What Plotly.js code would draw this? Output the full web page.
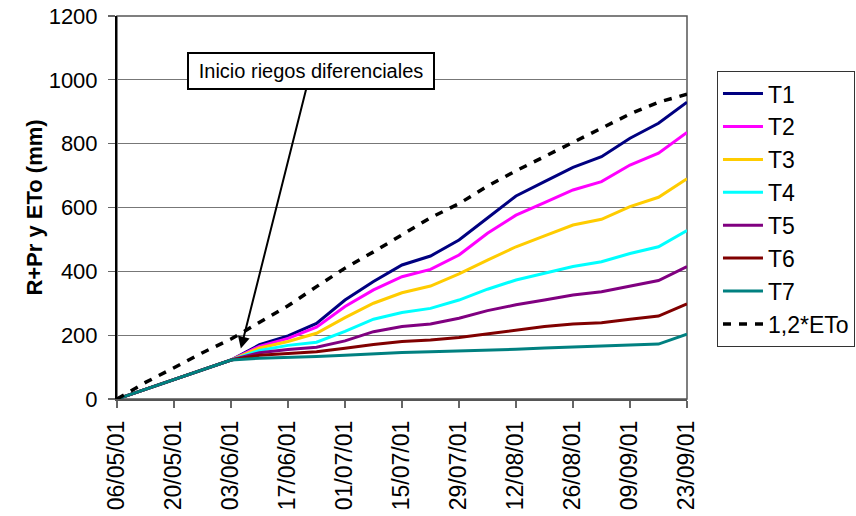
<!DOCTYPE html>
<html>
<head>
<meta charset="utf-8">
<script src="https://cdn.plot.ly/plotly-3.0.1.min.js"></script>
<style>
html,body{margin:0;padding:0;background:#fff;}
#chart{width:856px;height:516px;}
</style>
</head>
<body>
<div id="chart"></div>
<script>
// Weekly measurement dates
const dates = ["2001-05-06","2001-05-13","2001-05-20","2001-05-27","2001-06-03","2001-06-10","2001-06-17","2001-06-24","2001-07-01","2001-07-08","2001-07-15","2001-07-22","2001-07-29","2001-08-05","2001-08-12","2001-08-19","2001-08-26","2001-09-02","2001-09-09","2001-09-16","2001-09-23"];

// Series values (mm)
const T1 = [0,30,60,90,122,170,198,237,310,368,420,448,498,567,636,681,726,759,817,864,930];
const T2 = [0,30,60,90,122,165,190,225,290,342,383,406,451,519,576,615,655,681,733,770,835];
const T3 = [0,30,60,90,122,160,180,206,255,300,333,354,392,435,477,511,545,563,603,632,690];
const T4 = [0,30,60,90,122,152,168,178,212,250,271,284,310,344,373,394,415,430,456,477,528];
const T5 = [0,30,60,90,122,145,155,162,182,211,227,235,253,277,295,310,326,336,354,371,415];
const T6 = [0,30,60,90,122,137,142,148,159,171,180,185,193,204,216,227,235,239,250,260,298];
const T7 = [0,30,60,90,122,128,130,133,137,142,146,148,150,152,156,160,164,166,169,172,203];
const ETo12 = [0,52,98,145,188,240,292,352,410,461,513,568,612,667,715,760,803,850,893,930,955];

const seriesNames = ["T1","T2","T3","T4","T5","T6","T7"];
const seriesColors = ["#000080","#FF00FF","#FFCC00","#00FFFF","#800080","#800000","#008080"];

// Axis ticks
const tickDates = ["2001-05-06","2001-05-20","2001-06-03","2001-06-17","2001-07-01","2001-07-15","2001-07-29","2001-08-12","2001-08-26","2001-09-09","2001-09-23"];
const tickLabels = ["06/05/01","20/05/01","03/06/01","17/06/01","01/07/01","15/07/01","29/07/01","12/08/01","26/08/01","09/09/01","23/09/01"];
const yTicks = [0,200,400,600,800,1000,1200];

const allSeries = [T1,T2,T3,T4,T5,T6,T7];
const traces = allSeries.map((s,i)=>({
  x: dates, y: s, type:"scatter", mode:"lines", name: seriesNames[i],
  line:{color: seriesColors[i], width:3}
}));
traces.push({
  x: dates, y: ETo12, type:"scatter", mode:"lines", name:"1,2*ETo",
  line:{color:"#000000", width:3.5, dash:"8px,8px"}
});

const F = "Arial, 'Liberation Sans', sans-serif";
const layout = {
  width:856, height:516,
  margin:{l:117, r:169, t:16, b:117, pad:0, autoexpand:false},
  paper_bgcolor:"#fff", plot_bgcolor:"#fff",
  showlegend:true,
  font:{family:F, color:"#000", size:20},
  xaxis:{
    type:"date",
    range:["2001-05-06","2001-09-23"],
    tickvals: tickDates, ticktext: tickLabels,
    tickangle:-90,
    tickfont:{family:F, size:23, color:"#000"},
    ticks:"outside", ticklen:7, tickcolor:"#666", tickwidth:1.3,
    ticklabelstandoff:4,
    showgrid:false, zeroline:false,
    showline:true, linecolor:"#555", linewidth:1.5
  },
  yaxis:{
    range:[0,1200],
    tickvals: yTicks,
    tickfont:{family:F, size:22, color:"#000"},
    ticks:"outside", ticklen:7, tickcolor:"#666", tickwidth:1.3,
    ticklabelstandoff:6,
    showgrid:true, gridcolor:"#777", gridwidth:1.3,
    zeroline:false,
    showline:true, linecolor:"#000", linewidth:2,
    title:{text:"<b>R+Pr y ETo (mm)</b>", font:{family:F, size:22, color:"#000"}, standoff:0}
  },
  legend:{
    x:1.0526, xanchor:"left", y:0.856, yanchor:"top",
    bgcolor:"#fff", bordercolor:"#333", borderwidth:1,
    font:{family:F, size:23, color:"#000"},
    tracegroupgap:0, itemwidth:40
  },
  shapes:[{
    type:"rect", xref:"paper", yref:"paper", x0:0, x1:1, y0:0, y1:1,
    line:{color:"#555", width:1.5}, fillcolor:"rgba(0,0,0,0)", layer:"below"
  }],
  annotations:[{
    x:"2001-06-05 10:00", y:158, xref:"x", yref:"y",
    text:"Inicio riegos diferenciales",
    showarrow:true, arrowhead:2, arrowsize:1.2, arrowwidth:2, arrowcolor:"#000",
    ax:70, ay:-278,
    font:{family:F, size:20, color:"#000"},
    bgcolor:"#fff", bordercolor:"#000", borderwidth:2, borderpad:1,
    width:242, height:32
  }]
};

Plotly.newPlot("chart", traces, layout, {displayModeBar:false, staticPlot:true});
</script>
</body>
</html>
